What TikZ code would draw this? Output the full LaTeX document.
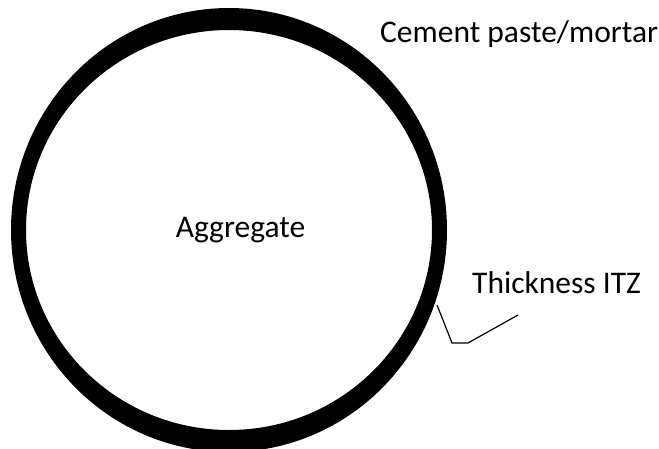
\documentclass[tikz,border=0pt]{standalone}
\usepackage{fontspec}
\setmainfont{Carlito}
\usepackage{tikz}

\begin{document}
\begin{tikzpicture}[x=1pt, y=-1pt, every node/.style={inner sep=0pt, font=\fontsize{31.5}{38}\selectfont}]
\useasboundingbox (0,0) rectangle (659,448);
\clip (0,0) rectangle (659,448);
\coordinate (O) at (229,230);
\coordinate (P) at (437,305);
\coordinate (Q) at (452,343);
\coordinate (R) at (468,343);
\coordinate (S) at (518,315);
% aggregate with ITZ ring
\fill[black, even odd rule] (O) ellipse [x radius=218pt, y radius=222pt]
    (O) ellipse [x radius=203pt, y radius=200pt];
\node[anchor=base] (agg) at (240.5,237) {Aggregate};
\node[anchor=base west] (paste) at (380,42) {Cement paste/mortar};
\node[anchor=base west] (itz) at (472,293) {Thickness ITZ};
\draw[black, line width=1.2pt, line join=round] (P) -- (Q) -- (R) -- (S);
\end{tikzpicture}
\end{document}
